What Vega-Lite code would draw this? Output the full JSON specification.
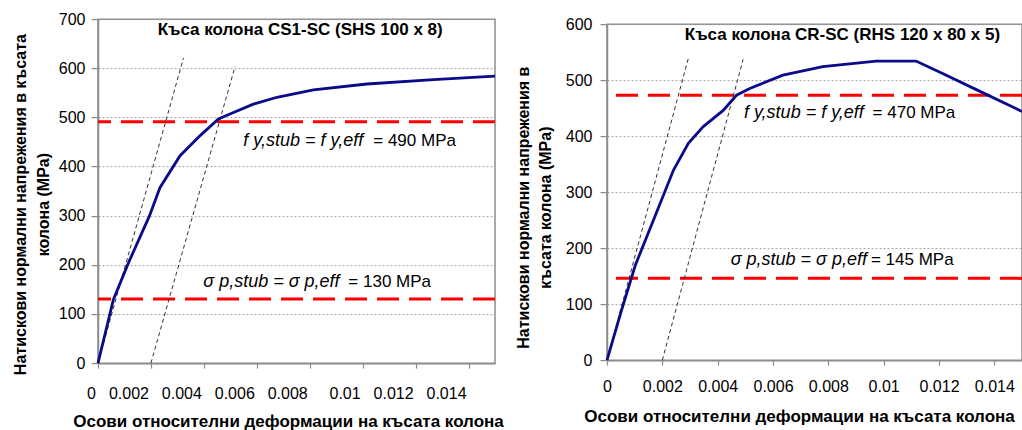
{
  "$schema": "https://vega.github.io/schema/vega-lite/v6.json",
  "background": "white",
  "padding": {"left": 11, "top": 10, "right": 0, "bottom": 0},
  "center": true,
  "spacing": 9,
  "config": {
    "font": "Liberation Sans",
    "view": {"stroke": "#8c8c8c", "strokeWidth": 1.5},
    "axis": {
      "labelFontSize": 16,
      "labelColor": "#000000",
      "titleFontSize": 16,
      "titleFontWeight": "bold",
      "titleColor": "#000000",
      "domainColor": "#8c8c8c",
      "domainWidth": 1.5,
      "tickColor": "#8c8c8c",
      "tickWidth": 1.2,
      "gridColor": "#a0a0a0",
      "gridDash": [2, 2],
      "labelFlush": false,
      "labelOverlap": false
    }
  },
  "hconcat": [
    {
      "width": 397,
      "height": 344,
      "layer": [
        {
          "data": {"values": [{"stress": 491}, {"stress": 130.5}]},
          "mark": {"type": "rule", "color": "#ff0000", "strokeWidth": 3, "strokeDash": [22, 10]},
          "encoding": {
            "y": {"field": "stress", "type": "quantitative", "scale": {"domain": [0, 700], "nice": false}}
          }
        },
        {
          "data": {"values": [
            {"line": "a", "strain": 0, "stress": 0},
            {"line": "a", "strain": 0.00323, "stress": 621},
            {"line": "b", "strain": 0.002, "stress": 0},
            {"line": "b", "strain": 0.00518, "stress": 604}
          ]},
          "mark": {"type": "line", "color": "#333333", "strokeWidth": 1, "strokeDash": [4, 3]},
          "encoding": {
            "x": {"field": "strain", "type": "quantitative", "scale": {"domain": [0, 0.015], "nice": false}},
            "y": {"field": "stress", "type": "quantitative", "scale": {"domain": [0, 700], "nice": false}},
            "detail": {"field": "line"}
          }
        },
        {
          "data": {"values": [
            {"strain": 0, "stress": 0},
            {"strain": 0.00058, "stress": 129},
            {"strain": 0.00115, "stress": 204},
            {"strain": 0.00194, "stress": 299},
            {"strain": 0.00234, "stress": 357},
            {"strain": 0.0031, "stress": 422},
            {"strain": 0.00386, "stress": 463},
            {"strain": 0.00455, "stress": 497},
            {"strain": 0.00512, "stress": 510},
            {"strain": 0.00587, "stress": 527},
            {"strain": 0.00676, "stress": 541},
            {"strain": 0.00814, "stress": 556},
            {"strain": 0.01016, "stress": 568},
            {"strain": 0.01268, "stress": 577},
            {"strain": 0.015, "stress": 584}
          ]},
          "mark": {"type": "line", "color": "#0a0a8a", "strokeWidth": 2.8},
          "encoding": {
            "x": {
              "field": "strain", "type": "quantitative",
              "scale": {"domain": [0, 0.015], "nice": false},
              "axis": {
                "values": [0, 0.002, 0.004, 0.006, 0.008, 0.01, 0.012, 0.014],
                "format": ".3~f",
                "labelAlign": "right",
                "labelOffset": -2.5,
                "grid": false,
                "tickSize": 5,
                "labelPadding": 17,
                "title": "Осови относителни деформации на късата колона",
                "titleFontSize": 17,
                "titlePadding": 12,
                "titleX": 190
              }
            },
            "y": {
              "field": "stress", "type": "quantitative",
              "scale": {"domain": [0, 700], "nice": false},
              "axis": {
                "values": [0, 100, 200, 300, 400, 500, 600, 700],
                "grid": true,
                "tickSize": 7,
                "labelPadding": 6,
                "title": ["Натискови нормални напрежения в късата", "колона (MPa)"],
                "titleLineHeight": 23,
                "titlePadding": 7,
                "titleY": 185
              }
            }
          }
        },
        {
          "data": {"values": [{"strain": 0.00764, "stress": 677, "label": "Къса колона CS1-SC (SHS 100 x 8)"}]},
          "mark": {"type": "text", "fontWeight": "bold", "fontSize": 17, "align": "center", "baseline": "middle", "color": "#000000"},
          "encoding": {
            "x": {"field": "strain", "type": "quantitative", "scale": {"domain": [0, 0.015], "nice": false}},
            "y": {"field": "stress", "type": "quantitative", "scale": {"domain": [0, 700], "nice": false}},
            "text": {"field": "label"}
          }
        },
        {
          "data": {"values": [
            {"strain": 0.00549, "stress": 453, "label": "f y,stub = f y,eff"},
            {"strain": 0.00398, "stress": 165, "label": "σ p,stub = σ p,eff"}
          ]},
          "mark": {"type": "text", "fontStyle": "italic", "fontSize": 18, "align": "left", "baseline": "middle", "color": "#000000"},
          "encoding": {
            "x": {"field": "strain", "type": "quantitative", "scale": {"domain": [0, 0.015], "nice": false}},
            "y": {"field": "stress", "type": "quantitative", "scale": {"domain": [0, 700], "nice": false}},
            "text": {"field": "label"}
          }
        },
        {
          "data": {"values": [
            {"strain": 0.0104, "stress": 453, "label": "= 490 MPa"},
            {"strain": 0.00946, "stress": 165, "label": "= 130 MPa"}
          ]},
          "mark": {"type": "text", "fontSize": 17, "align": "left", "baseline": "middle", "color": "#000000"},
          "encoding": {
            "x": {"field": "strain", "type": "quantitative", "scale": {"domain": [0, 0.015], "nice": false}},
            "y": {"field": "stress", "type": "quantitative", "scale": {"domain": [0, 700], "nice": false}},
            "text": {"field": "label"}
          }
        }
      ]
    },
    {
      "width": 415,
      "height": 336,
      "layer": [
        {
          "data": {"values": [{"stress": 473}, {"stress": 146}]},
          "mark": {"type": "rule", "color": "#ff0000", "strokeWidth": 3, "strokeDash": [22, 10]},
          "encoding": {
            "y": {"field": "stress", "type": "quantitative", "scale": {"domain": [0, 600], "nice": false}}
          }
        },
        {
          "data": {"values": [
            {"line": "a", "strain": 0, "stress": 0},
            {"line": "a", "strain": 0.00294, "stress": 539},
            {"line": "b", "strain": 0.002, "stress": 0},
            {"line": "b", "strain": 0.00492, "stress": 537}
          ]},
          "mark": {"type": "line", "color": "#333333", "strokeWidth": 1, "strokeDash": [4, 3]},
          "encoding": {
            "x": {"field": "strain", "type": "quantitative", "scale": {"domain": [0, 0.015], "nice": false}},
            "y": {"field": "stress", "type": "quantitative", "scale": {"domain": [0, 600], "nice": false}},
            "detail": {"field": "line"}
          }
        },
        {
          "data": {"values": [
            {"strain": 0, "stress": 0},
            {"strain": 0.0005, "stress": 85},
            {"strain": 0.00102, "stress": 169},
            {"strain": 0.0018, "stress": 265},
            {"strain": 0.0024, "stress": 339},
            {"strain": 0.00294, "stress": 387},
            {"strain": 0.00348, "stress": 417},
            {"strain": 0.0042, "stress": 446},
            {"strain": 0.00468, "stress": 473},
            {"strain": 0.00516, "stress": 485},
            {"strain": 0.00636, "stress": 509},
            {"strain": 0.0078, "stress": 524},
            {"strain": 0.00973, "stress": 534},
            {"strain": 0.01117, "stress": 534},
            {"strain": 0.01213, "stress": 512},
            {"strain": 0.01369, "stress": 475},
            {"strain": 0.015, "stress": 444}
          ]},
          "mark": {"type": "line", "color": "#0a0a8a", "strokeWidth": 2.8},
          "encoding": {
            "x": {
              "field": "strain", "type": "quantitative",
              "scale": {"domain": [0, 0.015], "nice": false},
              "axis": {
                "values": [0, 0.002, 0.004, 0.006, 0.008, 0.01, 0.012, 0.014],
                "format": ".3~f",
                "grid": false,
                "tickSize": 5,
                "labelPadding": 13,
                "title": "Осови относителни деформации на късата колона",
                "titleFontSize": 17,
                "titlePadding": 14,
                "titleX": 192
              }
            },
            "y": {
              "field": "stress", "type": "quantitative",
              "scale": {"domain": [0, 600], "nice": false},
              "axis": {
                "values": [0, 100, 200, 300, 400, 500, 600],
                "grid": true,
                "tickSize": 7,
                "labelPadding": 8,
                "title": ["Натискови нормални напрежения в", "късата колона (MPa)"],
                "titleLineHeight": 22,
                "titlePadding": 12,
                "titleY": 183
              }
            }
          }
        },
        {
          "data": {"values": [{"strain": 0.00851, "stress": 580, "label": "Къса колона CR-SC (RHS 120 x 80 x 5)"}]},
          "mark": {"type": "text", "fontWeight": "bold", "fontSize": 17, "align": "center", "baseline": "middle", "color": "#000000"},
          "encoding": {
            "x": {"field": "strain", "type": "quantitative", "scale": {"domain": [0, 0.015], "nice": false}},
            "y": {"field": "stress", "type": "quantitative", "scale": {"domain": [0, 600], "nice": false}},
            "text": {"field": "label"}
          }
        },
        {
          "data": {"values": [
            {"strain": 0.00495, "stress": 440.5, "label": "f y,stub = f y,eff"},
            {"strain": 0.00447, "stress": 178.6, "label": "σ p,stub = σ p,eff"}
          ]},
          "mark": {"type": "text", "fontStyle": "italic", "fontSize": 18, "align": "left", "baseline": "middle", "color": "#000000"},
          "encoding": {
            "x": {"field": "strain", "type": "quantitative", "scale": {"domain": [0, 0.015], "nice": false}},
            "y": {"field": "stress", "type": "quantitative", "scale": {"domain": [0, 600], "nice": false}},
            "text": {"field": "label"}
          }
        },
        {
          "data": {"values": [
            {"strain": 0.0096, "stress": 440.5, "label": "= 470 MPa"},
            {"strain": 0.00954, "stress": 178.6, "label": "= 145 MPa"}
          ]},
          "mark": {"type": "text", "fontSize": 17, "align": "left", "baseline": "middle", "color": "#000000"},
          "encoding": {
            "x": {"field": "strain", "type": "quantitative", "scale": {"domain": [0, 0.015], "nice": false}},
            "y": {"field": "stress", "type": "quantitative", "scale": {"domain": [0, 600], "nice": false}},
            "text": {"field": "label"}
          }
        }
      ]
    }
  ]
}
